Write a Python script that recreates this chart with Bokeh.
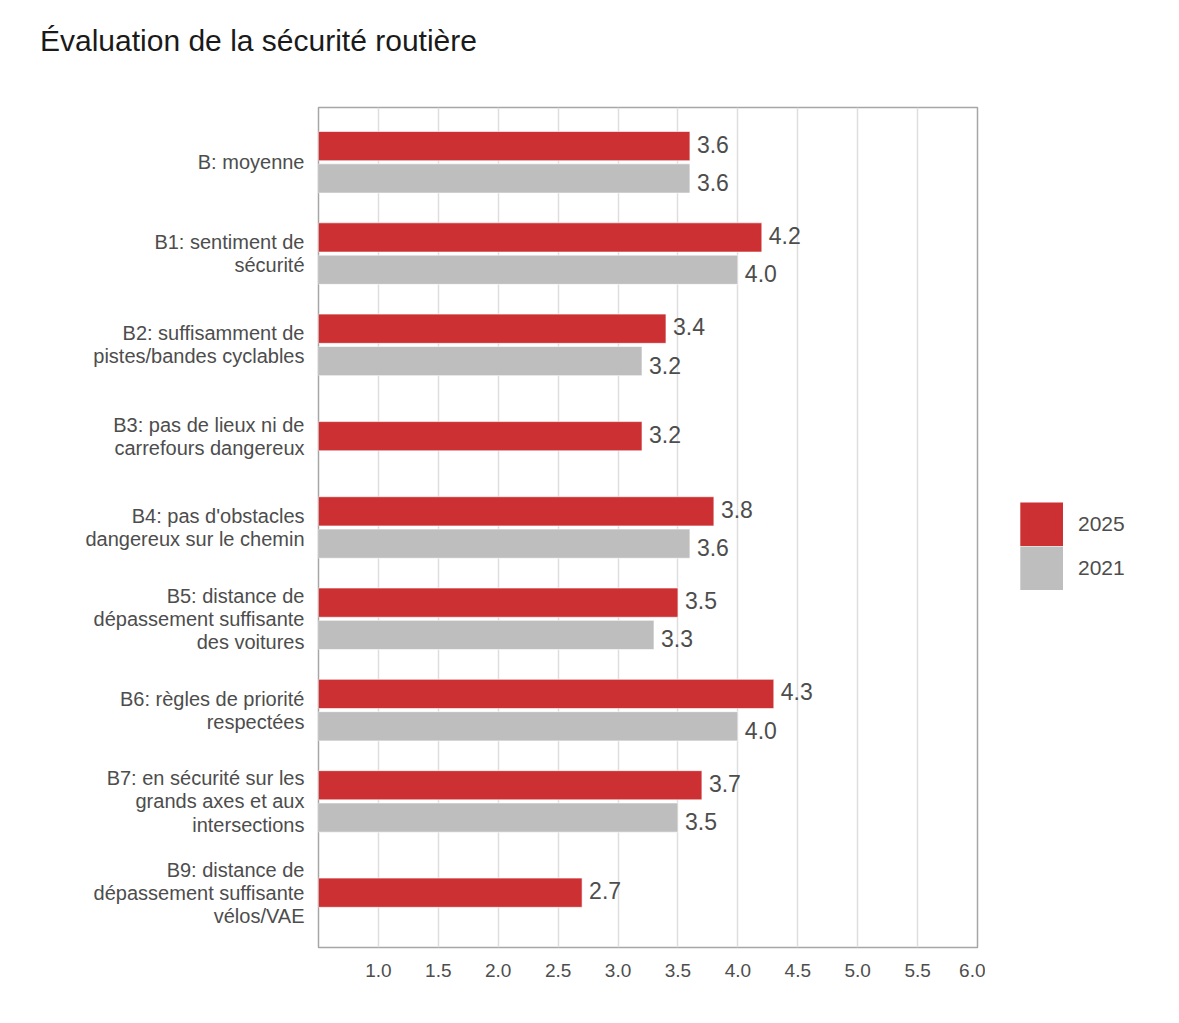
from bokeh.plotting import figure
from bokeh.models import (ColumnDataSource, FixedTicker, Range1d, Legend, LegendItem, Div)
from bokeh.layouts import column, row
from bokeh.embed import file_html
from bokeh.resources import INLINE
from bokeh.core.properties import value

title_text = "Évaluation de la sécurité routière"
categories = [
    "B: moyenne",
    "B1: sentiment de\nsécurité",
    "B2: suffisamment de\npistes/bandes cyclables",
    "B3: pas de lieux ni de\ncarrefours dangereux",
    "B4: pas d'obstacles\ndangereux sur le chemin",
    "B5: distance de\ndépassement suffisante\ndes voitures",
    "B6: règles de priorité\nrespectées",
    "B7: en sécurité sur les\ngrands axes et aux\nintersections",
    "B9: distance de\ndépassement suffisante\nvélos/VAE",
]
v2025 = [3.6, 4.2, 3.4, 3.2, 3.8, 3.5, 4.3, 3.7, 2.7]
v2021 = [3.6, 4.0, 3.2, None, 3.6, 3.3, 4.0, 3.5, None]
series = ["2025", "2021"]
x_ticks = [1.0, 1.5, 2.0, 2.5, 3.0, 3.5, 4.0, 4.5, 5.0, 5.5, 6.0]

RED = "#cc3033"
GREY = "#bebebe"
TXT = "#4d4d4d"
FONT = "Liberation Sans"
DODGE = 0.177
BAR_H = 0.32

n = len(categories)
pos = [n - i for i in range(n)]

y25 = [p + (DODGE if b is not None else 0.0) for p, b in zip(pos, v2021)]
src25 = ColumnDataSource(dict(y=y25, v=v2025, lab=[f"{v:.1f}" for v in v2025]))
idx21 = [i for i, b in enumerate(v2021) if b is not None]
src21 = ColumnDataSource(dict(
    y=[pos[i] - DODGE for i in idx21],
    v=[v2021[i] for i in idx21],
    lab=[f"{v2021[i]:.1f}" for i in idx21],
))

# ---- title ----
title = Div(
    text=f'<div style="position:absolute; top:20px; left:40px; white-space:nowrap; '
         f'font-family:\'{FONT}\'; font-size:30px; color:#1a1a1a;">{title_text}</div>',
    width=1170, height=70, margin=0,
)

# ---- main plot ----
p = figure(
    width=985, height=950,
    x_range=Range1d(0.5, 6.0), y_range=Range1d(0.4, n + 0.6),
    output_backend="svg", toolbar_location=None,
    min_border_left=318, min_border_right=8, min_border_top=37, min_border_bottom=73,
)

p.hbar(y="y", right="v", left=0, height=BAR_H, source=src25,
       fill_color=RED, line_color="white", line_alpha=0.6, line_width=1)
p.hbar(y="y", right="v", left=0, height=BAR_H, source=src21,
       fill_color=GREY, line_color="white", line_alpha=0.6, line_width=1)

p.text(x="v", y="y", text="lab", source=src25, x_offset=7, y_offset=-2,
       text_baseline="middle", text_font=value(FONT), text_font_size="23px",
       text_color=TXT)
p.text(x="v", y="y", text="lab", source=src21, x_offset=7, y_offset=4,
       text_baseline="middle", text_font=value(FONT), text_font_size="23px",
       text_color=TXT)

p.xaxis.ticker = FixedTicker(ticks=x_ticks)
p.xaxis.major_label_overrides = {t: f"{t:.1f}" for t in x_ticks}
p.xaxis.major_label_text_font = FONT
p.xaxis.major_label_text_font_size = "19px"
p.xaxis.major_label_text_color = TXT
p.xaxis.major_label_standoff = 10
p.xaxis.major_tick_line_color = None
p.xaxis.minor_tick_line_color = None
p.xaxis.axis_line_color = None

p.yaxis.ticker = FixedTicker(ticks=pos)
p.yaxis.major_label_overrides = {pp: c for pp, c in zip(pos, categories)}
p.yaxis.major_label_text_font = FONT
p.yaxis.major_label_text_font_size = "20px"
p.yaxis.major_label_text_color = TXT
p.yaxis.major_label_text_line_height = 1.05
p.yaxis.major_label_standoff = 8
p.yaxis.major_tick_line_color = None
p.yaxis.minor_tick_line_color = None
p.yaxis.axis_line_color = None

p.xgrid.ticker = FixedTicker(ticks=x_ticks)
p.xgrid.grid_line_color = "#dedede"
p.xgrid.grid_line_width = 1.5
p.ygrid.grid_line_color = None
p.outline_line_color = "#a6a6a6"
p.outline_line_width = 1.5

# ---- legend panel (its own plot, hidden renderers only feed the legend) ----
lg = figure(
    width=185, height=950, x_axis_type=None, y_axis_type=None,
    x_range=Range1d(-20, -10), y_range=Range1d(-20, -10),
    output_backend="svg", toolbar_location=None,
    min_border=0, outline_line_color=None,
)
lg.grid.grid_line_color = None
d25 = lg.hbar(y="y", right="v", left=0, height=BAR_H, source=src25,
              fill_color=RED, line_color=RED, line_width=9, line_join="miter")
d21 = lg.hbar(y="y", right="v", left=0, height=BAR_H, source=src21,
              fill_color=GREY, line_color=GREY, line_width=9, line_join="miter")
d25.visible = False
d21.visible = False
legend = Legend(
    items=[LegendItem(label=series[0], renderers=[d25]),
           LegendItem(label=series[1], renderers=[d21])],
    location=(35, 357), margin=0, padding=0, spacing=0,
    glyph_width=43, glyph_height=44, label_height=44, label_standoff=15,
    border_line_color=None, background_fill_alpha=0,
    label_text_font=FONT, label_text_font_size="21px", label_text_color=TXT,
)
lg.add_layout(legend, "center")

layout = column(title, row(p, lg, spacing=0), spacing=0)
open("out.html", "w").write(file_html(layout, INLINE))
